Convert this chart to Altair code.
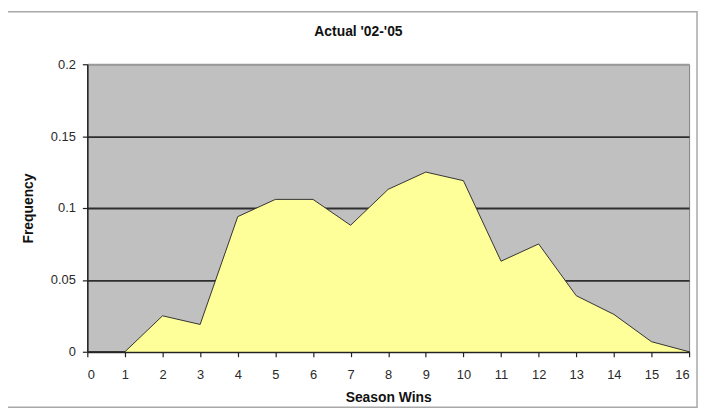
import altair as alt
import pandas as pd

wins = list(range(0, 17))
frequency = [0, 0, 0.025, 0.019, 0.094, 0.106, 0.106, 0.088, 0.113, 0.125,
             0.119, 0.063, 0.075, 0.039, 0.026, 0.007, 0]
x_ticks = list(range(0, 17))
y_ticks = [0, 0.05, 0.1, 0.15, 0.2]

df = pd.DataFrame({"wins": wins, "freq": frequency})

FONT = "Liberation Sans"

area = alt.Chart(df).mark_area(
    color="#FFFF99", opacity=1,
    line={"color": "#333333", "strokeWidth": 1},
).encode(
    x=alt.X("wins:Q", scale=alt.Scale(domain=[0, 16], nice=False),
            axis=alt.Axis(values=x_ticks, title="Season Wins", grid=False,
                          labelAngle=0, format="d")),
    y=alt.Y("freq:Q", scale=alt.Scale(domain=[0, 0.2], nice=False),
            axis=alt.Axis(values=y_ticks, title="Frequency", format="~g",
                          grid=True,
                          gridColor={"condition": {"test": "datum.value > 0.19", "value": "#9a9a9a"},
                                     "value": "#2e2e2e"},
                          gridWidth=1.8)),
)

border = alt.Chart(alt.Data(values=[{"a": 1}])).mark_rect(
    fill=None, stroke="#a8a8a8", strokeWidth=1.5, clip=False
).encode(
    x=alt.value(-81), x2=alt.value(615),
    y=alt.value(-53), y2=alt.value(346),
)

chart = alt.layer(border, area).properties(
    width=607, height=290,
    title=alt.TitleParams("Actual '02-'05", fontSize=14, fontWeight="bold",
                          font=FONT, color="#111111", anchor="middle",
                          dx=-30, offset=0, dy=28),
    autosize=alt.AutoSizeParams(type="none"),
    padding={"left": 80, "top": 55, "right": 10, "bottom": 57},
    background="white",
).configure_view(
    fill="#C0C0C0", stroke="#808080", strokeWidth=1
).configure_axis(
    labelFont=FONT, labelFontSize=13, labelColor="#2a2a2a",
    titleFont=FONT, titleFontSize=14, titleFontWeight="bold", titleColor="#111111",
    domainColor="#222222", domainWidth=1.5, tickColor="#222222", tickSize=5,
    tickWidth=1.2,
).configure_axisX(
    labelPadding=12, titlePadding=9,
).configure_axisY(
    labelPadding=7, titlePadding=15,
)

chart.save("out.html", embed_options={"renderer": "svg", "actions": False})
